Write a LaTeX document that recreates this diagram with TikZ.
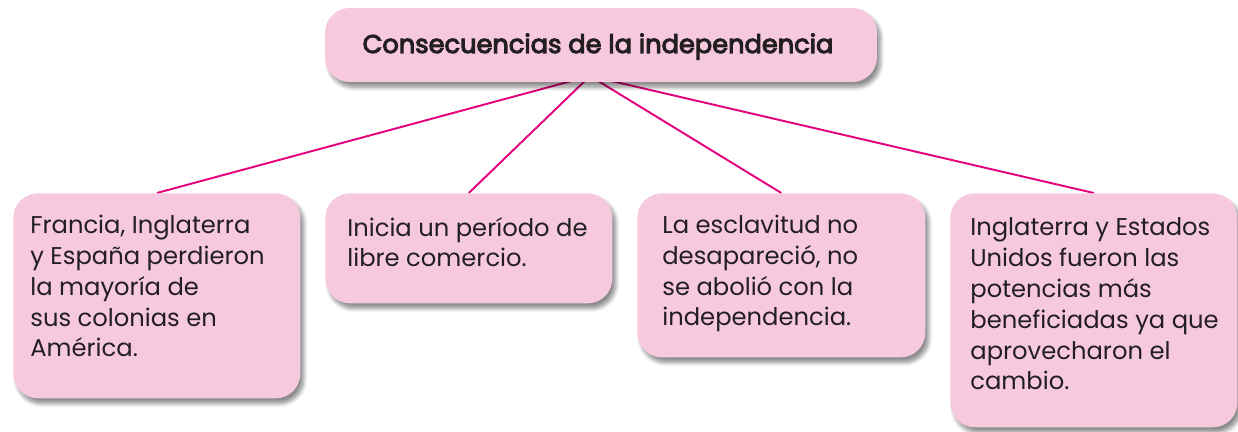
\documentclass[tikz,border=0pt]{standalone}
\usepackage{fontspec}
\setmainfont{Poppins}
\usetikzlibrary{shadows.blur,backgrounds}

\definecolor{cajarosa}{HTML}{F7C9DF}
\definecolor{enlacerosa}{HTML}{E5007D}
\definecolor{tinta}{HTML}{231F20}

\tikzset{
  caja/.style={fill=cajarosa, rounded corners=14pt, inner sep=0pt,
    blur shadow={shadow xshift=2pt, shadow yshift=-3pt, shadow blur steps=8, shadow opacity=45}},
  texto/.style={anchor=base west, inner sep=0pt, align=left, text=tinta,
    font=\fontsize{13.8}{17.6}\selectfont},
  enlace/.style={draw=enlacerosa, line width=1.1pt}
}

\begin{document}
\begin{tikzpicture}[x=0.02cm, y=-0.02cm]
      \useasboundingbox (0,0) rectangle (1238,432);

      % Title box
      \node[caja, minimum width=11.04cm, minimum height=1.48cm] (titulo) at (601,45) {};
      \node[texto, anchor=base, font=\fontsize{14.6}{20}\selectfont\addfontfeature{FakeBold=4}] (tituloTxt) at (598,53) {Consecuencias de la independencia};
      \coordinate (hub) at (590,76);

      % The four boxes
      \node[caja, anchor=north west, minimum width=5.74cm, minimum height=4.1cm] (b1) at (13,193) {};
      \node[caja, anchor=north west, minimum width=5.74cm, minimum height=2.2cm] (b2) at (325,193) {};
      \node[caja, anchor=north west, minimum width=5.76cm, minimum height=3.28cm] (b3) at (637,193) {};
      \node[caja, anchor=north west, minimum width=5.74cm, minimum height=4.68cm] (b4) at (950,193) {};

      % Texts (anchored at the baseline of their last line)
      \node[texto] (t1) at (30,357) {Francia, Inglaterra\\y España perdieron\\la mayoría de\\sus colonias en\\América.};
      \node[texto] (t2) at (347,267) {Inicia un período de\\libre comercio.};
      \node[texto] (t3) at (662,326) {La esclavitud no\\desapareció, no\\se abolió con la\\independencia.};
      \node[texto] (t4) at (970,390) {Inglaterra y Estados\\Unidos fueron las\\potencias más\\beneficiadas ya que\\aprovecharon el\\cambio.};

      % Links from the title to each box
      \begin{pgfonlayer}{background}
      \foreach \b in {b1, b2, b3, b4} {
          \draw[enlace] (hub) -- (\b.north);
      }
      \end{pgfonlayer}

    \end{tikzpicture}
\end{document}
